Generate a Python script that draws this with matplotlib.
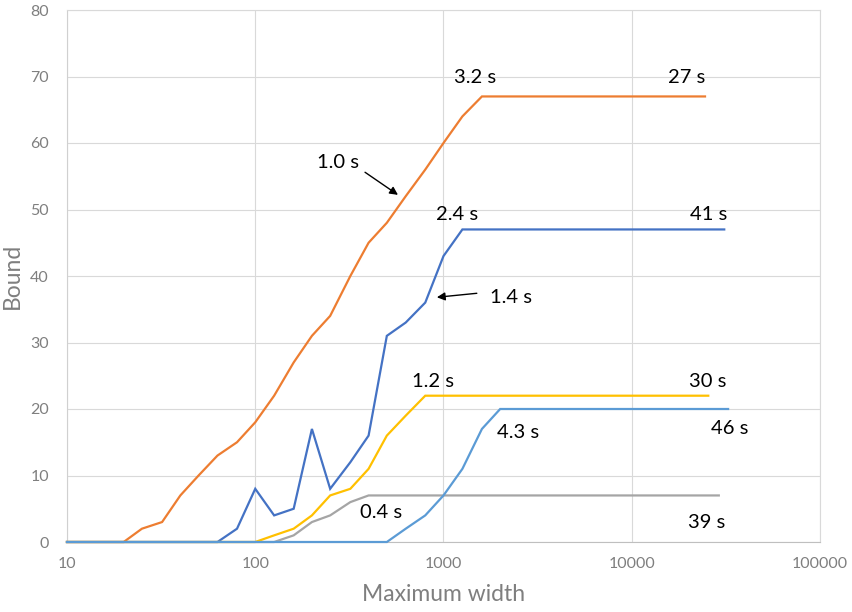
import numpy as np
import matplotlib
matplotlib.use("Agg")
import matplotlib.pyplot as plt
from matplotlib.ticker import FixedLocator, NullLocator

plt.rcParams["font.family"] = ["Lato", "DejaVu Sans"]

# widths shared by all series (last point of each series is its own end width)
WIDTHS = [10, 12.6, 16, 20, 25, 32, 40, 50, 63, 80, 100, 126, 160, 200, 250,
          320, 400, 500, 630, 800, 1000, 1260, 1600, 2000]

blue_vals = [0, 0, 0, 0, 0, 0, 0, 0, 0, 2, 8, 4, 5, 17, 8,
             12, 16, 31, 33, 36, 43, 47, 47, 47]
orange_vals = [0, 0, 0, 0, 2, 3, 7, 10, 13, 15, 18, 22, 27, 31, 34,
               40, 45, 48, 52, 56, 60, 64, 67, 67]
gray_vals = [0, 0, 0, 0, 0, 0, 0, 0, 0, 0, 0, 0, 1, 3, 4,
             6, 7, 7, 7, 7, 7, 7, 7, 7]
yellow_vals = [0, 0, 0, 0, 0, 0, 0, 0, 0, 0, 0, 1, 2, 4, 7,
               8, 11, 16, 19, 22, 22, 22, 22, 22]
ltblue_vals = [0, 0, 0, 0, 0, 0, 0, 0, 0, 0, 0, 0, 0, 0, 0,
               0, 0, 0, 2, 4, 7, 11, 17, 20]

END_WIDTHS = {"blue": 31000, "orange": 24500, "gray": 29000, "yellow": 25500, "ltblue": 32500}

SERIES = [
    ("blue", blue_vals, "#4472C4"),
    ("orange", orange_vals, "#ED7D31"),
    ("gray", gray_vals, "#A5A5A5"),
    ("yellow", yellow_vals, "#FFC000"),
    ("ltblue", ltblue_vals, "#5B9BD5"),
]

fig = plt.figure(figsize=(8.53, 6.12), dpi=100)
W, H = 853, 612
ax = fig.add_axes([67 / W, (H - 542) / H, (820 - 67) / W, (542 - 10) / H])

for i, (name, vals, col) in enumerate(SERIES):
    xs = WIDTHS + [END_WIDTHS[name]]
    ys = vals + [vals[-1]]
    ax.plot(xs, ys, color=col, lw=1.6, zorder=3 + i, solid_joinstyle="miter", clip_on=False)

ax.set_xscale("log")
ax.set_xlim(10, 100000)
ax.set_ylim(0, 80)
ax.xaxis.set_major_locator(FixedLocator([10, 100, 1000, 10000, 100000]))
ax.xaxis.set_minor_locator(NullLocator())
ax.set_xticklabels(["10", "100", "1000", "10000", "100000"])
ax.set_yticks(range(0, 81, 10))

grid_c = "#d9d9d9"
ax.grid(True, color=grid_c, lw=0.8, zorder=0)
for s in ["top", "right"]:
    ax.spines[s].set_color(grid_c)
    ax.spines[s].set_linewidth(0.8)
ax.spines["left"].set_color("#d0d0d0")
ax.spines["left"].set_linewidth(0.8)
ax.spines["bottom"].set_color("#bfbfbf")
ax.spines["bottom"].set_linewidth(0.8)

txt_c = "#7f7f7f"
ax.tick_params(axis="both", length=0, labelsize=11.5, labelcolor=txt_c)
ax.tick_params(axis="x", pad=11)
ax.tick_params(axis="y", pad=13)
ax.set_xlabel("Maximum width", fontsize=16.5, color=txt_c, labelpad=9)
ax.set_ylabel("Bound", fontsize=16.5, color=txt_c, labelpad=5)

fs = 14.5
ann = dict(fontsize=fs, color="black", ha="center", va="center", zorder=10)
ax.text(1470, 69.9, "3.2 s", **ann)
ax.text(19600, 69.9, "27 s", **ann)
ax.text(1180, 49.2, "2.4 s", **ann)
ax.text(25600, 49.2, "41 s", **ann)
ax.text(880, 24.2, "1.2 s", **ann)
ax.text(25300, 24.2, "30 s", **ann)
ax.text(2480, 16.5, "4.3 s", **ann)
ax.text(33200, 17.0, "46 s", **ann)
ax.text(466, 4.5, "0.4 s", **ann)
ax.text(25000, 3.0, "39 s", **ann)
ax.text(275, 57.0, "1.0 s", **ann)
ax.text(2280, 36.8, "1.4 s", **ann)

arrow = dict(arrowstyle="-|>", color="black", lw=1.0, mutation_scale=12, shrinkA=0, shrinkB=0)
ax.annotate("", xy=(573, 52.2), xytext=(383, 55.6), arrowprops=arrow, zorder=10)
ax.annotate("", xy=(922, 36.8), xytext=(1503, 37.4), arrowprops=arrow, zorder=10)

fig.savefig("out.png", dpi=100)
